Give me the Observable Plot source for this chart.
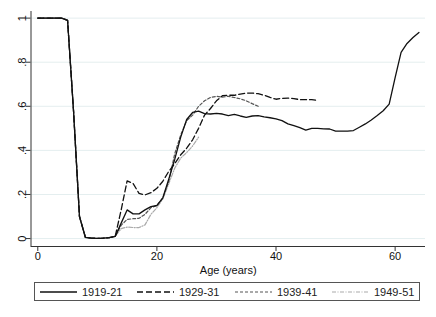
<!DOCTYPE html>
<html>
<head>
<meta charset="utf-8">
<script src="https://cdn.jsdelivr.net/npm/d3@7"></script>
<script src="https://cdn.jsdelivr.net/npm/@observablehq/plot@0.6"></script>
<style>
  body { margin: 0; background: #fff; font-family: "Liberation Sans", Arial, sans-serif; }
  #wrap { position: relative; width: 436px; height: 317px; }
  #legend { position: absolute; left: 34px; top: 282px; width: 384px; height: 17px; border: 1px solid #555; font-size: 11px; color: #222; }
  .item { position: absolute; top: 0; height: 17px; display: flex; align-items: center; }
  .item svg { display: block; }
  .item span { margin-left: 5px; }
</style>
</head>
<body>
<div id="wrap"><div id="chart"></div><div id="legend"></div></div>
<script>
const ages = [0,1,2,3,4,5,6,7,8,9,10,11,12,13,14,15,16,17,18,19,20,21,22,23,24,25,26,27,28,29,30,31,32,33,34,35,36,37,38,39,40,41,42,43,44,45,46,47,48,49,50,51,52,53,54,55,56,57,58,59,60,61,62,63,64];
const seriesNames = ["1919-21", "1929-31", "1939-41", "1949-51"];
const v1919 = [1,1,1,1,1,0.99,0.58,0.1,0.005,0.002,0.001,0.002,0.004,0.01,
  0.07,0.13,0.112,0.112,0.13,0.145,0.15,0.185,0.27,0.36,0.46,0.54,0.572,
  0.578,0.567,0.565,0.568,0.565,0.558,0.563,0.556,0.55,0.556,0.558,0.552,0.548,0.543,0.535,0.52,0.512,0.503,0.492,0.5,0.5,0.498,0.497,0.487,0.487,0.487,0.49,0.505,0.52,0.538,0.558,0.58,0.61,0.73,0.845,0.885,0.912,0.935];
const v1929 = [1,1,1,1,1,0.99,0.58,0.1,0.005,0.002,0.001,0.002,0.004,0.01,
  0.13,0.262,0.25,0.205,0.198,0.208,0.228,0.26,0.305,0.34,0.38,0.41,0.448,0.5,0.56,0.59,0.625,0.648,0.65,0.65,0.655,0.66,0.66,0.657,0.65,0.64,0.632,0.636,0.637,0.635,0.63,0.63,0.63,0.627];
const v1939 = [1,1,1,1,1,0.99,0.58,0.1,0.005,0.002,0.001,0.002,0.004,0.01,
  0.06,0.087,0.09,0.092,0.11,0.14,0.15,0.185,0.26,0.385,0.47,0.535,0.56,0.6,0.625,0.64,0.645,0.642,0.645,0.64,0.634,0.625,0.612,0.6];
const v1949 = [1,1,1,1,1,0.99,0.58,0.1,0.005,0.002,0.001,0.002,0.004,0.01,
  0.045,0.052,0.05,0.05,0.062,0.11,0.14,0.18,0.25,0.32,0.365,0.39,0.42,0.46];
const yTicks = [0, 0.2, 0.4, 0.6, 0.8, 1];
const yTickLabels = ["0", ".2", ".4", ".6", ".8", "1"];
const xTicks = [0, 20, 40, 60];
const xLabel = "Age (years)";

const styles = {
  "1919-21": {stroke: "#111", dash: null, width: 1.3},
  "1929-31": {stroke: "#111", dash: "6,3", width: 1.3},
  "1939-41": {stroke: "#555", dash: "3,2", width: 1.2},
  "1949-51": {stroke: "#aaa", dash: "4,1.5,1,1.5", width: 1.2}
};
const allValues = [v1919, v1929, v1939, v1949];
const rows = [];
seriesNames.forEach((s, k) => allValues[k].forEach((v, i) => rows.push({series: s, age: ages[i], value: v})));

const xDom = [-1.14, 65.1];
const yDom = [-0.036, 1.03];

const lineMarks = seriesNames.map(s => Plot.line(rows.filter(r => r.series === s), {
  x: "age", y: "value", stroke: styles[s].stroke, strokeWidth: styles[s].width,
  strokeDasharray: styles[s].dash, strokeLinejoin: "round", curve: "linear"
}));

const chart = Plot.plot({
  width: 436, height: 278,
  marginLeft: 30.5, marginRight: 11, marginTop: 11, marginBottom: 32,
  style: {fontFamily: "'Liberation Sans', Arial, sans-serif", fontSize: "11px", color: "#111", background: "#fff"},
  x: {type: "linear", domain: xDom},
  y: {type: "linear", domain: yDom},
  marks: [
    Plot.ruleY(yTicks, {stroke: "#e4eeef", strokeWidth: 1}),
    ...lineMarks.slice().reverse(),
    Plot.ruleX([xDom[0]], {stroke: "#333", strokeWidth: 1}),
    Plot.ruleY([yDom[0]], {stroke: "#333", strokeWidth: 1}),
    Plot.axisY({ticks: yTicks, tickSize: 5, tickFormat: () => "", label: null, stroke: "#333"}),
    Plot.text(yTicks, {y: d => d, frameAnchor: "left", dx: -9, rotate: -90, text: (d, i) => yTickLabels[i], textAnchor: "middle", lineAnchor: "middle", fill: "#111"}),
    Plot.axisX({ticks: xTicks, tickSize: 5, tickPadding: 1, label: null, stroke: "#333", fill: "#111"}),
    Plot.text([xLabel], {frameAnchor: "bottom", dy: 24, lineAnchor: "middle", textAnchor: "middle", fill: "#111"})
  ]
});
document.getElementById("chart").appendChild(chart);

// legend
const legend = document.getElementById("legend");
const lefts = [5, 102, 200, 297];
seriesNames.forEach((s, i) => {
  const st = styles[s];
  const div = document.createElement("div");
  div.className = "item";
  div.style.left = lefts[i] + "px";
  div.innerHTML = `<svg width="37" height="6"><line x1="0" x2="37" y1="3" y2="3" stroke="${st.stroke}" stroke-width="${st.width}" ${st.dash ? `stroke-dasharray="${st.dash}"` : ""}/></svg><span>${s}</span>`;
  legend.appendChild(div);
});
</script>
</body>
</html>
